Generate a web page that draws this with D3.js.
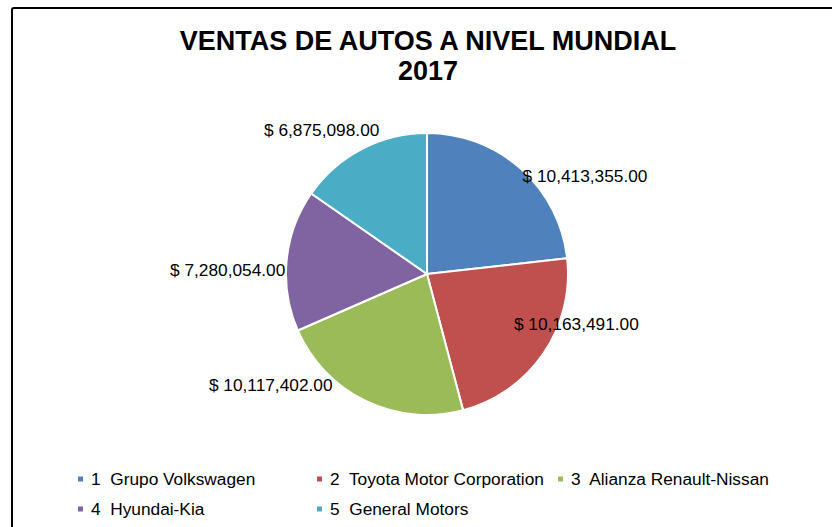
<!DOCTYPE html>
<html>
<head>
<meta charset="utf-8">
<script src="https://cdn.jsdelivr.net/npm/d3@7"></script>
<style>
  body { margin: 0; background: #fff; }
  svg text { font-family: "Liberation Sans", Arial, sans-serif; white-space: pre; }
</style>
</head>
<body>
<div id="graph"></div>
<script>
// datos del grafico
const categories = ["Grupo Volkswagen", "Toyota Motor Corporation", "Alianza Renault-Nissan", "Hyundai-Kia", "General Motors"];
const ventas = [10413355, 10163491, 10117402, 7280054, 6875098];
const colors = ["#4F81BD", "#C0504D", "#9BBB59", "#8064A2", "#4BACC6"];
const titleLines = ["VENTAS DE AUTOS A NIVEL MUNDIAL", "2017"];

const width = 832;
const height = 527;
const stretch = 1.08; // el texto original sale algo ensanchado

var svg = d3.select("#graph").append("svg")
    .attr("width", width).attr("height", height);

// estira el texto a lo ancho sin cambiar su alto
function widen(sel) {
    sel.each(function () {
        var w = this.getComputedTextLength();
        d3.select(this).attr("textLength", w * stretch).attr("lengthAdjust", "spacingAndGlyphs");
    });
}

// marco del grafico (se sale por la derecha y abajo)
svg.append("rect")
    .attr("x", 12).attr("y", 8)
    .attr("width", 900).attr("height", 600)
    .attr("rx", 2)
    .attr("fill", "none")
    .attr("stroke", "#000")
    .attr("stroke-width", 2);

// titulo
svg.append("g").selectAll("text")
    .data(titleLines)
    .enter()
    .append("text")
    .attr("x", 428)
    .attr("y", function (d, i) { return 50 + i * 30; })
    .attr("text-anchor", "middle")
    .attr("font-size", 27)
    .attr("font-weight", "bold")
    .text(function (d) { return d; });

// pastel
var cx = 427, cy = 274, r = 141;
var g = svg.append("g").attr("transform", "translate(" + cx + "," + cy + ")");

var pie = d3.pie().sort(null).value(function (d) { return d; });
var arcs = pie(ventas);
var arc = d3.arc().innerRadius(0).outerRadius(r);

g.selectAll(".slice")
    .data(arcs)
    .enter()
    .append("path")
    .attr("class", "slice")
    .attr("d", arc)
    .attr("fill", function (d, i) { return colors[i]; })
    .attr("stroke", "#fff")
    .attr("stroke-width", 2)
    .attr("stroke-linejoin", "round");

// etiquetas (estilo "best fit" de Excel, con ajuste manual)
var labelNudge = [[64, 8], [33, -29], [-95, -16], [-59, 10], [-40, -19]];
var fmt = d3.format(",.2f");
var edge = d3.arc().innerRadius(r).outerRadius(r);

g.selectAll(".lbl")
    .data(arcs)
    .enter()
    .append("text")
    .attr("class", "lbl")
    .attr("x", function (d, i) { return edge.centroid(d)[0] + labelNudge[i][0]; })
    .attr("y", function (d, i) { return edge.centroid(d)[1] + labelNudge[i][1]; })
    .attr("dy", "0.35em")
    .attr("text-anchor", "middle")
    .attr("font-size", 16)
    .attr("fill", "#000")
    .text(function (d) { return "$ " + fmt(d.value); })
    .call(widen);

// leyenda
var colX = [78, 317, 558];
var rowY = [479, 509];
var legend = svg.append("g").selectAll(".leg")
    .data(categories)
    .enter()
    .append("g")
    .attr("class", "leg")
    .attr("transform", function (d, i) {
        return "translate(" + colX[i % 3] + "," + rowY[Math.floor(i / 3)] + ")";
    });

legend.append("rect")
    .attr("x", 0).attr("y", -2.5)
    .attr("width", 5).attr("height", 5)
    .attr("fill", function (d, i) { return colors[i]; });

legend.append("text")
    .attr("x", 13)
    .attr("dy", "0.35em")
    .attr("font-size", 16)
    .attr("fill", "#000")
    .text(function (d, i) { return (i + 1) + "  " + d; })
    .call(widen);
</script>
</body>
</html>
